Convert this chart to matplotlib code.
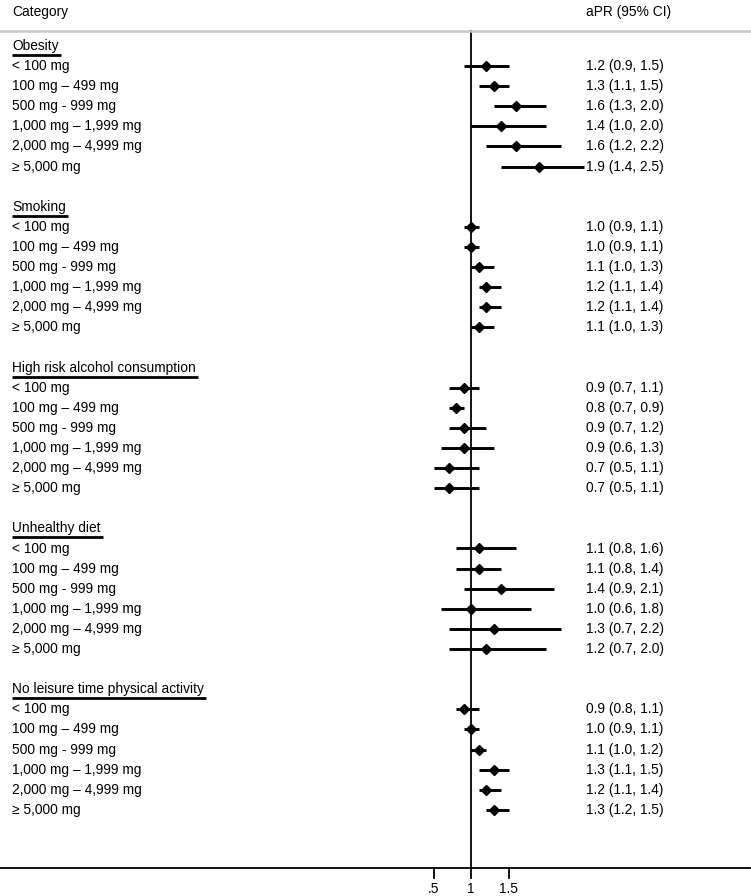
import numpy as np
import matplotlib
matplotlib.use("Agg")
import matplotlib.pyplot as plt
from matplotlib.lines import Line2D

plt.rcParams['font.family'] = ['Liberation Sans', 'DejaVu Sans']

groups = ["Obesity", "Smoking", "High risk alcohol consumption",
          "Unhealthy diet", "No leisure time physical activity"]
doses = ["< 100 mg", "100 mg \u2013 499 mg", "500 mg - 999 mg",
         "1,000 mg \u2013 1,999 mg", "2,000 mg \u2013 4,999 mg", "\u2265 5,000 mg"]

est = [[1.2, 1.3, 1.6, 1.4, 1.6, 1.9],
       [1.0, 1.0, 1.1, 1.2, 1.2, 1.1],
       [0.9, 0.8, 0.9, 0.9, 0.7, 0.7],
       [1.1, 1.1, 1.4, 1.0, 1.3, 1.2],
       [0.9, 1.0, 1.1, 1.3, 1.2, 1.3]]
lo = [[0.9, 1.1, 1.3, 1.0, 1.2, 1.4],
      [0.9, 0.9, 1.0, 1.1, 1.1, 1.0],
      [0.7, 0.7, 0.7, 0.6, 0.5, 0.5],
      [0.8, 0.8, 0.9, 0.6, 0.7, 0.7],
      [0.8, 0.9, 1.0, 1.1, 1.1, 1.2]]
hi = [[1.5, 1.5, 2.0, 2.0, 2.2, 2.5],
      [1.1, 1.1, 1.3, 1.4, 1.4, 1.3],
      [1.1, 0.9, 1.2, 1.3, 1.1, 1.1],
      [1.6, 1.4, 2.1, 1.8, 2.2, 2.0],
      [1.1, 1.1, 1.2, 1.5, 1.4, 1.5]]
xticks = [0.5, 1, 1.5]
xticklabels = [".5", "1", "1.5"]

W, H = 751, 896
fig = plt.figure(figsize=(W / 100, H / 100), dpi=100)
ax = fig.add_axes([0, 0, 1, 1])
ax.set_axis_off()

# pixel mapping: x=1 at px 471, 75 px per unit; row 0 at px 46, 20.1 px per row
ppu, x0 = 75.0, 471.0
ax.set_xlim(1 - x0 / ppu, 1 + (W - x0) / ppu)
rstep, r0 = 20.1, 46.0
ax.set_ylim((H - r0) / rstep, -r0 / rstep)

def ry(px):
    return (px - r0) / rstep

fs = 9.9
trans = ax.get_yaxis_transform()  # x in axes fraction, y in data
fig.text(12 / W, 1 - 12 / H, "Category", fontsize=fs, va="center", ha="left")
fig.text(586 / W, 1 - 12 / H, "aPR (95% CI)", fontsize=fs, va="center", ha="left")
fig.add_artist(Line2D([0, 1], [1 - 31 / H, 1 - 31 / H], color="#c8c8c8", lw=1.8))

headers = []
for g, name in enumerate(groups):
    base = g * 8
    t = ax.text(12 / W, base, name, transform=trans, fontsize=fs, va="center", ha="left")
    headers.append(t)
    for i, d in enumerate(doses):
        r = base + 1 + i
        ax.text(12 / W, r, d, transform=trans, fontsize=fs, va="center", ha="left")
        ax.text(586 / W, r, "%.1f (%.1f, %.1f)" % (est[g][i], lo[g][i], hi[g][i]),
                transform=trans, fontsize=fs, va="center", ha="left")
        ax.plot([lo[g][i], hi[g][i]], [r, r], color="black", lw=2.1,
                solid_capstyle="butt", zorder=3)
        ax.plot(est[g][i], r, marker="D", color="black", ms=5.2, zorder=4)

# underline headers
fig.canvas.draw()
rend = fig.canvas.get_renderer()
for t in headers:
    bb = t.get_window_extent(renderer=rend)
    yb = bb.y0 - 2.0
    fig.add_artist(Line2D([bb.x0 / W, (bb.x1 + 2) / W], [yb / H, yb / H],
                          color="black", lw=2.0, solid_capstyle="butt"))

# reference line and x axis
ybot = ry(868)
ax.plot([1, 1], [ry(31), ybot], color="black", lw=1.3, zorder=2)
ax.plot(ax.get_xlim(), [ybot, ybot], color="black", lw=1.3, clip_on=False)
for xt, lab in zip(xticks, xticklabels):
    ax.plot([xt, xt], [ybot, ry(878)], color="black", lw=1.3)
    ax.text(xt, ry(889), lab, fontsize=fs, ha="center", va="center")

fig.savefig("out.png", dpi=100)
